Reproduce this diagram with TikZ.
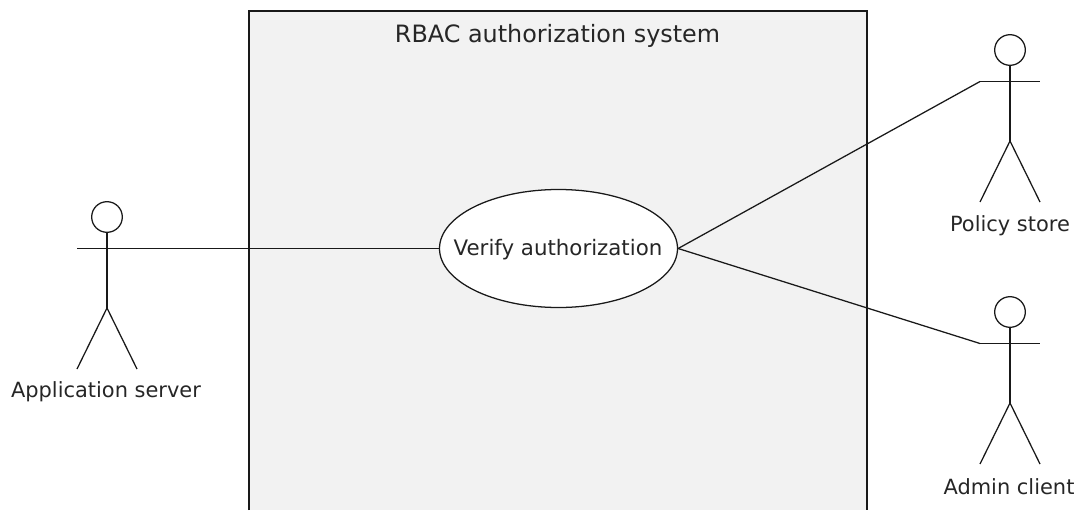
\documentclass[tikz,border=0pt]{standalone}
\usepackage{fontspec}
\setmainfont{DejaVu Sans}
\usetikzlibrary{shapes.geometric}
\definecolor{boxfill}{HTML}{F2F2F2}
\tikzset{
  umlline/.style={draw=black!90,line width=0.95pt},
  usecase/.style={ellipse,draw=black!90,fill=white,line width=0.95pt,minimum width=178.5pt,minimum height=88.5pt,inner sep=0pt},
  head/.style={circle,draw=black!90,fill=white,line width=0.95pt,minimum size=23pt,inner sep=0pt},
  lbl/.style={font=\fontsize{15.7pt}{18pt}\selectfont,text=black!85,inner sep=0pt}
}
\begin{document}
\begin{tikzpicture}[x=0.75pt,y=-0.75pt]
\useasboundingbox (0,0) rectangle (1077,510);
% system box, open at the bottom
\fill[boxfill] (249,11) rectangle (867,510);
\draw[umlline] (249,510) -- (249,11) -- (867,11) -- (867,510);
\node[lbl,font=\fontsize{17.9pt}{21pt}\selectfont] (sysname) at (557.5,36) {RBAC authorization system};
\node[usecase] (verify) at (558.5,248.5) {};
\node[lbl,font=\fontsize{16pt}{18pt}\selectfont] (verifytxt) at (558,250) {Verify authorization};
% actors
\foreach \nm/\xx/\yy/\txt/\dx/\ty in {app/107/217/Application server/-1/175,
                                     store/1010/50/Policy store/0/176,
                                     admin/1010/312/Admin client/-1/175}{
  \node[head] (\nm head) at (\xx,\yy) {};
  \coordinate (\nm l) at (\xx-30,\yy+31.5);
  \coordinate (\nm r) at (\xx+30,\yy+31.5);
  \coordinate (\nm hip) at (\xx,\yy+91);
  \coordinate (\nm fl) at (\xx-30,\yy+152);
  \coordinate (\nm fr) at (\xx+30,\yy+152);
  \draw[umlline] (\nm head.south) -- (\nm hip);
  \draw[umlline] (\nm l) -- (\nm r);
  \draw[umlline] (\nm fl) -- (\nm hip) -- (\nm fr);
  \node[lbl] (\nm name) at (\xx+\dx,\yy+\ty) {\txt};
}
% connectors
\draw[umlline] (appr) -- (verify.west);
\draw[umlline] (verify.east) -- (storel);
\draw[umlline] (verify.east) -- (adminl);
\end{tikzpicture}
\end{document}
